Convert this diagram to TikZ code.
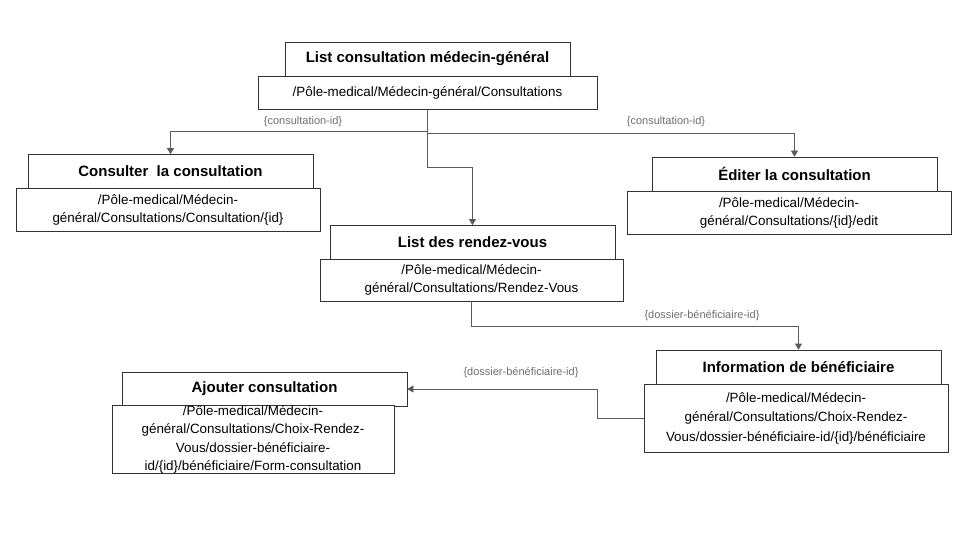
\documentclass[tikz,border=0pt]{standalone}
\usepackage{fontspec}
\setmainfont{Liberation Sans}
\usetikzlibrary{arrows.meta, positioning}
\definecolor{linegray}{RGB}{90, 90, 90}
\definecolor{labelgray}{RGB}{110, 110, 110}

\begin{document}
\begin{tikzpicture}[x=1pt, y=-1pt,
    titlebox/.style={rectangle, draw=black!80, fill=white, line width=0.7pt,
                  minimum width=285pt, minimum height=34pt, inner sep=0pt,
                  font=\fontsize{15}{17}\selectfont\bfseries},
    pathbox/.style={rectangle, draw=black!80, fill=white, line width=0.7pt,
                  inner sep=0pt, align=center,
                  font=\fontsize{13.4}{18}\selectfont},
    conn/.style={-{Triangle[width=7pt, length=6pt]}, draw=linegray, line width=0.7pt},
    idlabel/.style={font=\fontsize{11}{13}\selectfont, text=labelgray}]

    \useasboundingbox (0,0) rectangle (960,540);

    % Pages
    \node[titlebox] (lst) at (427.5, 59) {List consultation médecin-général};
    \node[pathbox, minimum width=339pt, minimum height=33pt] (lstp) at (427.5, 92.5)
        {/Pôle-medical/Médecin-général/Consultations};

    \node[titlebox] (cons) at (170.5, 171.5) {Consulter\ \ la consultation};
    \node[pathbox, minimum width=304pt, minimum height=43pt] (consp) at (168, 209.5)
        {/Pôle-medical/Médecin-\\général/Consultations/Consultation/\{id\}};

    \node[titlebox] (edit) at (794.5, 174) {Éditer la consultation};
    \node[pathbox, minimum width=324pt, minimum height=43pt] (editp) at (789, 212.5)
        {/Pôle-medical/Médecin-\\général/Consultations/\{id\}/edit};

    \node[titlebox] (rdv) at (472.5, 242.5) {List des rendez-vous};
    \node[pathbox, minimum width=303pt, minimum height=42pt] (rdvp) at (471.5, 280)
        {/Pôle-medical/Médecin-\\général/Consultations/Rendez-Vous};

    \node[titlebox] (info) at (798.5, 367) {Information de bénéficiaire};
    \node[pathbox, minimum width=304pt, minimum height=68pt, font=\fontsize{13.4}{19.5}\selectfont] (infop) at (796, 418)
        {/Pôle-medical/Médecin-\\général/Consultations/Choix-Rendez-\\Vous/dossier-bénéficiaire-id/\{id\}/bénéficiaire};

    \node[titlebox] (ajout) at (264.5, 389) {Ajouter consultation};
    \node[pathbox, minimum width=282pt, minimum height=67pt, font=\fontsize{13.4}{18.3}\selectfont] (ajoutp) at (253, 439.5)
        {/Pôle-medical/Médecin-\\général/Consultations/Choix-Rendez-\\Vous/dossier-bénéficiaire-\\id/\{id\}/bénéficiaire/Form-consultation};

    % Arrows showing flow
    \draw[conn] (lstp.south) -- ++(0,22) -| (cons.north);
    \draw[conn] (lstp.south) -- ++(0,24) -| (edit.north);
    \draw[conn] (lstp.south) -- ++(0,58) -| (rdv.north);
    \draw[conn] (rdvp.south) -- ++(0,25) -| (info.north);
    \draw[conn] (infop.west) -- ++(-46,0) |- (ajout.east);

    % Parameters
    \node[idlabel] (id1) at (303, 122) {\{consultation-id\}};
    \node[idlabel] (id2) at (666, 122) {\{consultation-id\}};
    \node[idlabel] (id3) at (702, 316) {\{dossier-bénéficiaire-id\}};
    \node[idlabel] (id4) at (521, 373) {\{dossier-bénéficiaire-id\}};
\end{tikzpicture}
\end{document}
